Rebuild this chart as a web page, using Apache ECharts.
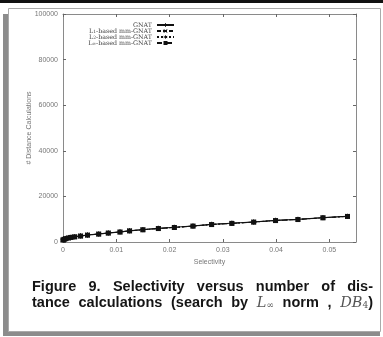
<!DOCTYPE html>
<html>
<head>
<meta charset="utf-8">
<script src="https://cdn.jsdelivr.net/npm/echarts@6/dist/echarts.min.js"></script>
<style>
  html, body { margin: 0; padding: 0; background: #fff; }
  #chart { width: 383px; height: 337px; }
</style>
</head>
<body>
<div id="chart"></div>
<script>
// selectivity (x) and number of distance calculations for each index
const selectivity = [0, 0.0002, 0.0005, 0.001, 0.0015, 0.0022, 0.0033, 0.0046, 0.0067, 0.0085,
  0.0107, 0.0125, 0.015, 0.0179, 0.0209, 0.0244, 0.0279, 0.0317, 0.0358, 0.0399, 0.0441, 0.0488, 0.0534]
const gnat = [950, 1250, 1550, 1850, 2100, 2350, 2700, 3100, 3550, 4000,
  4450, 4950, 5450, 6000, 6450, 7050, 7750, 8250, 8800, 9500, 9950, 10700, 11300]
const l1Gnat = [900, 1200, 1500, 1800, 2050, 2300, 2650, 3050, 3500, 3950,
  4400, 4900, 5400, 5950, 6400, 7000, 7700, 8200, 8750, 9450, 9900, 10650, 11250]
const l2Gnat = [880, 1180, 1480, 1780, 2030, 2280, 2630, 3030, 3480, 3930,
  4380, 4880, 5380, 5930, 6380, 6980, 7680, 8180, 8730, 9430, 9880, 10630, 11230]
const linfGnat = [860, 1150, 1450, 1750, 2000, 2250, 2600, 3000, 3450, 3900,
  4350, 4850, 5350, 5900, 6350, 6950, 7650, 8150, 8700, 9400, 9850, 10600, 11200]
const xTicks = [0, 0.01, 0.02, 0.03, 0.04, 0.05]
const yTicks = [0, 20000, 40000, 60000, 80000, 100000]

function pairs(ys) {
  return selectivity.map((x, i) => [x, ys[i]])
}

const plusPath = 'path://M4,0H6V4H10V6H6V10H4V6H0V4H4Z'
const crossPath = 'path://M1,0L5,4L9,0L10,1L6,5L10,9L9,10L5,6L1,10L0,9L4,5L0,1Z'
const starPath = 'path://M4.3,0H5.7V3.8L9,1.9L9.7,3.1L6.4,5L9.7,6.9L9,8.1L5.7,6.2V10H4.3V6.2L1,8.1L0.3,6.9L3.6,5L0.3,3.1L1,1.9L4.3,3.8Z'

let myChart = echarts.init(document.getElementById('chart'))

const axisGray = '#8a8a8a'
const labelStyle = { color: '#777', fontSize: 7, fontFamily: 'Liberation Sans' }

// caption: two justified lines, words measured on a canvas and spread over the line width
const capSize = 14.5
const capFont = 'bold ' + capSize + 'px "Liberation Sans"'
const mathFont = 'italic ' + capSize + 'px "DejaVu Serif"'
const subFont = '9px "DejaVu Serif"'
const ctx = document.createElement('canvas').getContext('2d')
function w(font, s) { ctx.font = font; return ctx.measureText(s).width }

const mathRich = {
  i: { fontFamily: 'DejaVu Serif', fontStyle: 'italic', fontSize: capSize, fill: '#555' },
  s: { fontFamily: 'DejaVu Serif', fontSize: 9, fill: '#555', verticalAlign: 'bottom', lineHeight: 12 },
  b: { fontFamily: 'Liberation Sans', fontWeight: 'bold', fontSize: capSize, fill: '#151515' }
}
const captionLines = [
  [['Figure'], ['9.'], ['Selectivity'], ['versus'], ['number'], ['of'], ['dis-']],
  [['tance'], ['calculations'], ['(search'], ['by'],
   ['{i|L}{s|∞}', w(mathFont, 'L') + w(subFont, '∞')], ['norm'], [','],
   ['{i|DB}{s|4}{b|)}', w(mathFont, 'DB') + w(subFont, '4') + w(capFont, ')')]]
]
const capLeft = 32, capRight = 373, capY = [287, 303]
const captionText = []
captionLines.forEach((line, li) => {
  const widths = line.map(t => t.length > 1 ? t[1] : w(capFont, t[0]))
  const total = widths.reduce((a, b) => a + b, 0)
  const gap = (capRight - capLeft - total) / (line.length - 1)
  let x = capLeft
  line.forEach((t, k) => {
    const style = t.length > 1
      ? { text: t[0], rich: mathRich, verticalAlign: 'middle' }
      : { text: t[0], font: capFont, fill: '#151515', verticalAlign: 'middle' }
    captionText.push({ type: 'text', x: x, y: capY[li], z: 10, style: style })
    x += widths[k] + gap
  })
})

const legendNames = {
  'GNAT': 'GNAT',
  'L1-based mm-GNAT': 'L{s|1}-based mm-GNAT',
  'L2-based mm-GNAT': 'L{s|2}-based mm-GNAT',
  'L∞-based mm-GNAT': 'L{s|∞}-based mm-GNAT'
}

function lineSeries(name, ys, symbol, type) {
  return {
    name: name,
    type: 'line',
    data: pairs(ys),
    symbol: symbol,
    symbolSize: 5,
    showSymbol: true,
    lineStyle: { color: '#111', width: 1, type: type },
    itemStyle: { color: '#111' },
    animation: false
  }
}

var option = {
  animation: false,
  graphic: [
    // page decoration: top rule, panel and its shadow
    { type: 'rect', z: -10, shape: { x: 0, y: 0, width: 383, height: 3 }, style: { fill: '#111' } },
    { type: 'rect', z: -10, shape: { x: 3, y: 14, width: 6, height: 322 }, style: { fill: '#8c8c8c' } },
    { type: 'rect', z: -10, shape: { x: 3, y: 332, width: 377, height: 4 }, style: { fill: '#8c8c8c' } },
    { type: 'rect', z: -9, shape: { x: 8.5, y: 8.5, width: 372, height: 323 }, style: { fill: '#fff', stroke: '#aaa', lineWidth: 1 } }
  ].concat(captionText),
  legend: {
    orient: 'vertical',
    align: 'right',
    right: 208,
    top: 22,
    padding: 0,
    itemGap: 0,
    itemWidth: 17,
    itemHeight: 5,
    data: Object.keys(legendNames),
    formatter: n => legendNames[n],
    textStyle: {
      fontFamily: 'DejaVu Serif', fontSize: 6.3, color: '#444', lineHeight: 6,
      rich: { s: { fontSize: 4.5, fontFamily: 'DejaVu Serif', color: '#444', lineHeight: 6, verticalAlign: 'bottom' } }
    }
  },
  grid: { left: 63, right: 27, top: 14, bottom: 95, containLabel: false },
  xAxis: [
    {
      type: 'value', min: 0, max: 0.055, interval: 0.01,
      name: 'Selectivity', nameLocation: 'middle', nameGap: 15,
      nameTextStyle: labelStyle,
      axisLine: { onZero: false, lineStyle: { color: axisGray } },
      axisTick: { inside: true, length: 3, lineStyle: { color: '#666' } },
      axisLabel: { ...labelStyle, margin: 5, showMaxLabel: false, formatter: v => xTicks.indexOf(Math.round(v * 100) / 100) >= 0 ? String(Math.round(v * 100) / 100) : '' },
      splitLine: { show: false }
    },
    {
      type: 'value', min: 0, max: 0.055, interval: 0.01, position: 'top',
      axisLine: { onZero: false, lineStyle: { color: axisGray } },
      axisTick: { inside: true, length: 3, lineStyle: { color: '#666' } },
      axisLabel: { show: false },
      splitLine: { show: false }
    }
  ],
  yAxis: [
    {
      type: 'value', min: 0, max: 100000, interval: 20000,
      name: '# Distance Calculations', nameLocation: 'middle', nameGap: 30,
      nameMoveOverlap: false,
      nameTextStyle: labelStyle,
      axisLine: { show: true, onZero: false, lineStyle: { color: axisGray } },
      axisTick: { show: true, inside: true, length: 3, lineStyle: { color: '#666' } },
      axisLabel: { ...labelStyle, margin: 5, formatter: v => yTicks.indexOf(v) >= 0 ? String(v) : '' },
      splitLine: { show: false }
    },
    {
      type: 'value', min: 0, max: 100000, interval: 20000, position: 'right',
      axisLine: { show: true, onZero: false, lineStyle: { color: axisGray } },
      axisTick: { show: true, inside: true, length: 3, lineStyle: { color: '#666' } },
      axisLabel: { show: false },
      splitLine: { show: false }
    }
  ],
  series: [
    lineSeries('GNAT', gnat, plusPath, 'solid'),
    lineSeries('L1-based mm-GNAT', l1Gnat, crossPath, [4, 2]),
    lineSeries('L2-based mm-GNAT', l2Gnat, starPath, [2, 2]),
    lineSeries('L∞-based mm-GNAT', linfGnat, 'rect', [5, 2, 1, 2])
  ]
}

myChart.setOption(option)
window.onresize = myChart.resize
</script>
</body>
</html>
